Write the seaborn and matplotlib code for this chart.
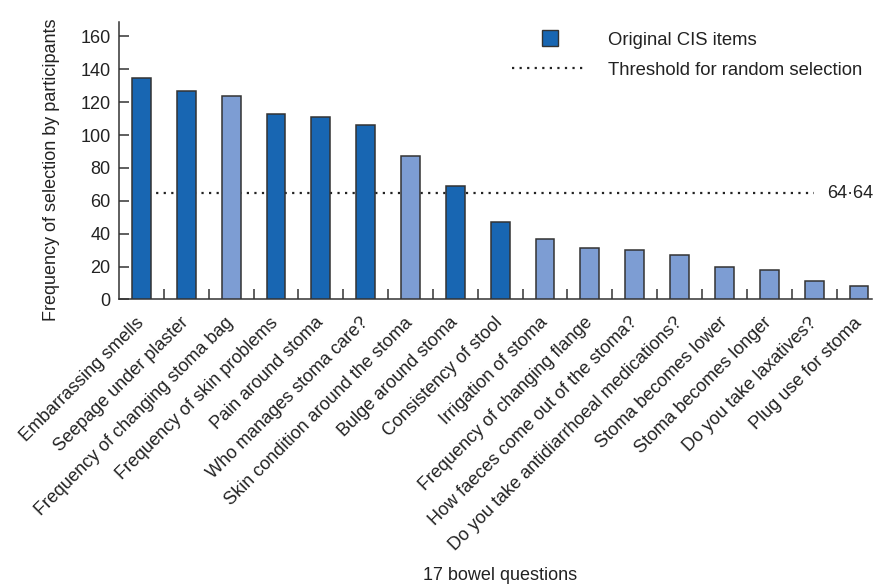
import numpy as np
import pandas as pd
import matplotlib
matplotlib.use("Agg")
import matplotlib.pyplot as plt
import seaborn as sns
from matplotlib.lines import Line2D
from matplotlib.ticker import FixedLocator

# =============================
# Data
# =============================
questions = [
    "Embarrassing smells", "Seepage under plaster", "Frequency of changing stoma bag",
    "Frequency of skin problems", "Pain around stoma", "Who manages stoma care?",
    "Skin condition around the stoma", "Bulge around stoma", "Consistency of stool",
    "Irrigation of stoma", "Frequency of changing flange",
    "How faeces come out of the stoma?", "Do you take antidiarrhoeal medications?",
    "Stoma becomes lower", "Stoma becomes longer", "Do you take laxatives?",
    "Plug use for stoma",
]
frequency = [135, 127, 124, 113, 111, 106, 87, 69, 47, 37, 31, 30, 27, 20, 18, 11, 8]
original_cis = [True, True, False, True, True, True, False, True, True,
                False, False, False, False, False, False, False, False]
threshold = 64.64

dark_blue = "#1866b2"
light_blue = "#7d9dd3"

df = pd.DataFrame({"question": questions, "freq": frequency,
                   "group": ["CIS" if o else "New" for o in original_cis]})

# =============================
# Plot
# =============================
sns.set_style("white")
plt.rcParams['font.family'] = ['Liberation Sans', 'DejaVu Sans']
FS = 13

fig = plt.figure(figsize=(8.73, 5.86), dpi=100)
ax = fig.add_axes([0.1363, 0.489, 0.863, 0.474])

sns.barplot(data=df, x="question", y="freq", hue="group",
            palette={"CIS": dark_blue, "New": light_blue}, saturation=1,
            dodge=False, width=0.42, edgecolor="#333333", linewidth=1.1,
            legend=False, ax=ax, zorder=3)

# threshold line (behind bars)
ax.plot([0, 15], [threshold, threshold], color="#222222", lw=1.6,
        linestyle=(0, (1, 2.4)), zorder=2)
ax.text(15.28, threshold, "64\u00b764", fontsize=FS, va="center", ha="left",
        color="#222222")

ax.set_xlim(-0.5, 16.3)
ax.set_ylim(0, 169)
ax.set_yticks(np.arange(0, 161, 20))
ax.set_xlabel("")

ax.set_xticks(range(len(questions)))
ax.set_xticklabels(questions, rotation=45, ha="right", va="center",
                   rotation_mode="anchor", fontsize=FS, color="#222222")
ax.xaxis.set_minor_locator(FixedLocator(np.arange(0.5, 16, 1)))
ax.tick_params(axis="x", which="major", length=0, pad=15)
ax.tick_params(axis="x", which="minor", direction="in", length=7.5,
               width=1.1, color="#333333", bottom=True)
ax.tick_params(axis="y", direction="in", length=7.5, width=1.1,
               color="#333333", labelsize=FS, labelcolor="#222222", pad=6,
               left=True)

for side in ["top", "right"]:
    ax.spines[side].set_visible(False)
for side in ["left", "bottom"]:
    ax.spines[side].set_color("#333333")
    ax.spines[side].set_linewidth(1.1)

ax.set_ylabel("Frequency of selection by participants", fontsize=FS,
              color="#222222")
ax.yaxis.set_label_coords(-0.078, 0.466)
fig.text(0.573, 0.018, "17 bowel questions", fontsize=FS, ha="center",
         va="center", color="#222222")

# legend
handles = [
    Line2D([0], [0], marker="s", color="none", markerfacecolor=dark_blue,
           markeredgecolor="#333333", markersize=12),
    Line2D([0], [0], color="#222222", lw=1.6, linestyle=(0, (1, 2.4))),
]
leg = ax.legend(handles, ["Original CIS items", "Threshold for random selection"],
                loc="upper left", bbox_to_anchor=(0.587, 0.946),
                bbox_transform=fig.transFigure, frameon=False, fontsize=13.3,
                handlelength=4.05, handletextpad=1.12, labelspacing=0.7,
                borderpad=0, borderaxespad=0)
for t in leg.get_texts():
    t.set_color("#222222")

fig.savefig("out.png", dpi=100)
